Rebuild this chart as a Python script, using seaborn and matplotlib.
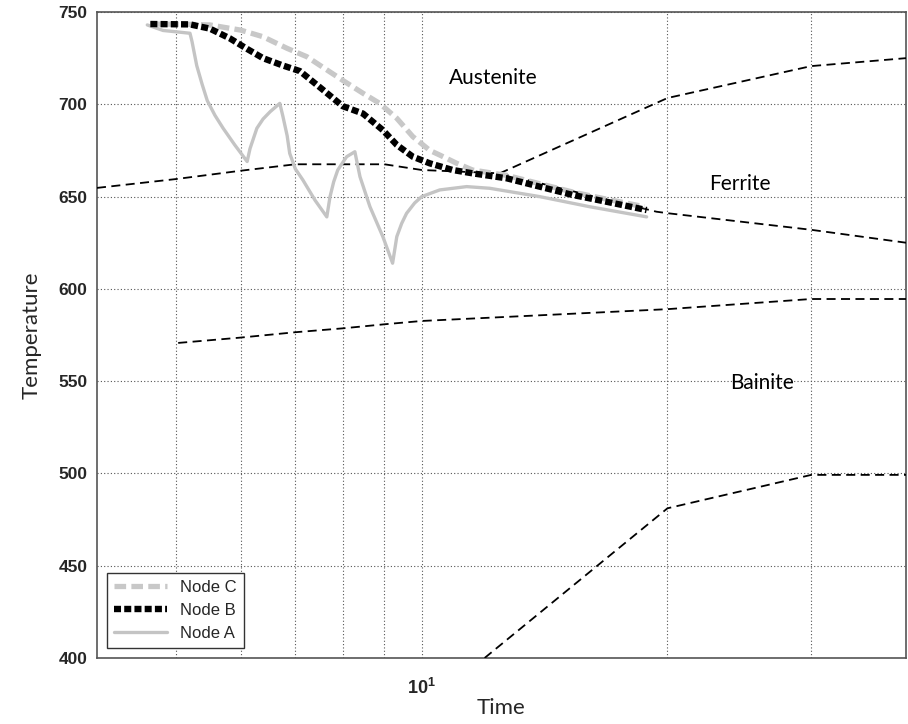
import matplotlib
matplotlib.use("Agg")
import matplotlib.pyplot as plt
import seaborn as sns
import pandas as pd
from matplotlib.ticker import FixedLocator, NullFormatter, LogFormatterMathtext

# cooling curves at three nodes (time in s, log scale)
node_a_time = [4.61, 4.82, 5.20, 5.23, 5.30, 5.38, 5.46, 5.58, 5.71, 5.90,
               6.11, 6.16, 6.28, 6.39, 6.52, 6.70, 6.76, 6.84, 6.89, 7.0,
               7.15, 7.40, 7.65, 7.72, 7.80, 7.89, 8.09, 8.28, 8.40, 8.64,
               8.96, 9.21, 9.32, 9.45, 9.58, 9.80, 10.0, 10.52, 11.35, 12.11,
               13.94, 16.06, 18.86]
node_a_temp = [743, 740, 738.5, 734, 721, 711, 702, 694, 687, 678,
               669, 676, 687, 692, 696, 700.5, 693.3, 683, 673.4, 665,
               659, 648, 639, 650, 658, 664.4, 671.6, 674.3, 660.8, 644.5,
               628.3, 613.9, 628.3, 635.5, 640.9, 646.5, 650, 653.6, 655.4, 654.5,
               650, 644.5, 639]

node_b_time = [4.65, 5.20, 5.50, 5.82, 6.11, 6.39, 6.76, 7.09, 7.56, 8.0,
               8.47, 8.96, 9.32, 9.75, 10.23, 10.91, 11.54, 12.71, 13.94, 15.30,
               16.84, 18.86]
node_b_temp = [743.5, 743.3, 741, 735.7, 730, 725, 721, 718, 708, 699,
               695, 686, 678, 671.6, 668, 664.4, 662.6, 659.9, 655.4, 650.9,
               647.2, 642.7]

node_c_time = [4.65, 5.20, 5.50, 6.0, 6.39, 6.84, 7.23, 8.0, 8.47, 8.88,
               9.32, 9.75, 10.23, 10.52, 11.04, 11.54, 12.71, 13.94, 15.30, 16.84,
               18.75]
node_c_temp = [743.5, 743.3, 743, 740.2, 736.6, 730.3, 725.8, 713, 706, 700.5,
               692.4, 682.5, 675, 672.5, 668, 664.4, 661.5, 657, 652.5, 648.6,
               644.5]

# phase boundaries
ferrite_start_time = [4.0, 5.0, 6.0, 7.0, 9.0, 10.0, 12.46, 20.0, 30.0, 39.2]
ferrite_start_temp = [654.7, 659.5, 664, 667.5, 667.5, 664.4, 662.6, 703.4, 720.7, 725]
ferrite_low_time = [12.46, 19.39, 20.0, 30.0, 39.2]
ferrite_low_temp = [662.6, 641.8, 641, 632, 625]
bainite_time = [5.03, 6.0, 7.0, 8.0, 9.0, 10.0, 20.0, 30.0, 39.2]
bainite_temp = [570.7, 573.6, 576.5, 578.6, 580.8, 582.6, 589, 594.5, 594.5]
martensite_time = [11.94, 20.0, 30.0, 39.2]
martensite_temp = [400, 481.1, 499.2, 499.2]

phase_names = ["Austenite", "Ferrite", "Bainite"]
phase_time = [12.25, 24.5, 26.1]
phase_temp = [714, 657, 549]

sns.set_style("white")
plt.rcParams["font.family"] = ["Liberation Sans", "DejaVu Sans"]

fig = plt.figure(figsize=(9.08, 7.24), dpi=100)
ax = fig.add_axes([0.1068, 0.0912, 0.891, 0.8922])

# boundaries
for t, v in [(ferrite_start_time, ferrite_start_temp), (ferrite_low_time, ferrite_low_temp),
             (bainite_time, bainite_temp), (martensite_time, martensite_temp)]:
    sns.lineplot(x=t, y=v, ax=ax, color="black", linewidth=1.3, sort=False,
                 estimator=None, dashes=False, linestyle=(0, (5, 3)), zorder=3)

df_a = pd.DataFrame({"t": node_a_time, "T": node_a_temp})
df_b = pd.DataFrame({"t": node_b_time, "T": node_b_temp})
df_c = pd.DataFrame({"t": node_c_time, "T": node_c_temp})

sns.lineplot(data=df_a, x="t", y="T", ax=ax, color="#c4c4c4", linewidth=2.4,
             sort=False, estimator=None, label="Node A", zorder=4)
sns.lineplot(data=df_c, x="t", y="T", ax=ax, color="#c8c8c8", linewidth=3.8,
             sort=False, estimator=None, label="Node C", zorder=5,
             linestyle=(0, (2.2, 1.0)))
sns.lineplot(data=df_b, x="t", y="T", ax=ax, color="black", linewidth=4.6,
             sort=False, estimator=None, label="Node B", zorder=6,
             linestyle=(0, (1.1, 0.5)))

ax.set_xscale("log")
ax.set_xlim(4.0, 39.2)
ax.set_ylim(400, 750)

ax.xaxis.set_major_locator(FixedLocator([10]))
ax.xaxis.set_major_formatter(LogFormatterMathtext())
ax.xaxis.set_minor_locator(FixedLocator([5, 6, 7, 8, 9, 20, 30]))
ax.xaxis.set_minor_formatter(NullFormatter())
ax.set_yticks([400, 450, 500, 550, 600, 650, 700, 750])

ax.grid(True, which="major", axis="both", color="#555555", linestyle=(0, (1, 2)), linewidth=0.8)
ax.grid(True, which="minor", axis="x", color="#555555", linestyle=(0, (1, 2)), linewidth=0.8)

ax.tick_params(axis="both", which="both", direction="in", length=4, color="#444444")
ax.tick_params(axis="y", labelsize=12.5, pad=7)
ax.tick_params(axis="x", labelsize=13, pad=14)
for lbl in ax.get_yticklabels() + ax.get_xticklabels():
    lbl.set_fontweight("bold")

for s in ax.spines.values():
    s.set_color("#555555")
    s.set_linewidth(1.2)

ax.set_xlabel("Time", fontsize=16, family=["Lato", "DejaVu Sans"], labelpad=0)
ax.set_ylabel("Temperature", fontsize=16, family=["Lato", "DejaVu Sans"], labelpad=12)

for name, t, v in zip(phase_names, phase_time, phase_temp):
    ax.text(t, v, name, fontsize=15, family=["Lato", "DejaVu Sans"],
            ha="center", va="center", color="black")

handles, labels = ax.get_legend_handles_labels()
order = [labels.index(n) for n in ["Node C", "Node B", "Node A"]]
leg = ax.legend([handles[i] for i in order], [labels[i] for i in order],
                loc="lower left", fontsize=12, frameon=True, fancybox=False,
                edgecolor="#333333", framealpha=1, borderaxespad=0.6,
                handlelength=3.2, labelspacing=0.5)
leg.get_frame().set_linewidth(1.0)

fig.savefig("out.png", dpi=100)
